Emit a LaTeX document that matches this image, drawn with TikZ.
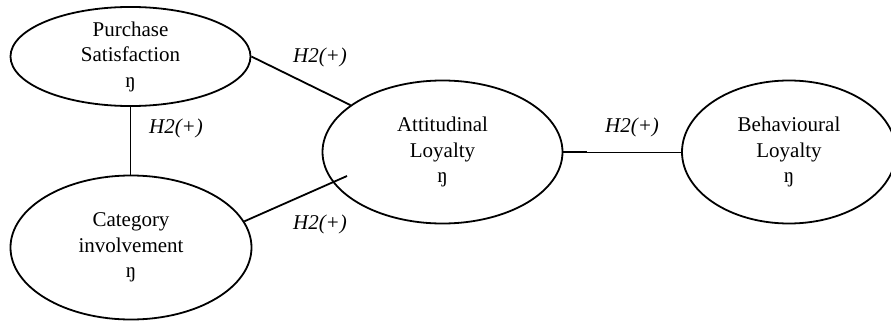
\documentclass[tikz,border=0pt]{standalone}
\usepackage{fontspec}
\setmainfont{Liberation Serif}
\usetikzlibrary{shapes.geometric}
\begin{document}
\begin{tikzpicture}[x=1pt,y=-1pt,
  construct/.style={draw, ellipse, line width=1.8pt, inner sep=0pt,
    align=center, font=\fontsize{21}{25.5}\selectfont},
  hyp/.style={font=\fontsize{21}{25}\selectfont\itshape, inner sep=0pt},
  link/.style={line width=1.8pt},
  thinlink/.style={line width=1pt}]
\useasboundingbox (0,0) rectangle (891,324);

% latent constructs
\node[construct, minimum width=240pt, minimum height=90pt] (ps) at (130.5,56.5)
  {Purchase\\Satisfaction\\ŋ};
\node[construct, minimum width=241pt, minimum height=144pt] (ci) at (131,247.5)
  {Category\\involvement\\ŋ};
\node[construct, minimum width=240pt, minimum height=143pt] (al) at (442.5,152)
  {Attitudinal\\Loyalty\\ŋ};
\node[construct, minimum width=214pt, minimum height=143pt] (bl) at (789,152)
  {Behavioural\\Loyalty\\ŋ};

% paths between constructs
\coordinate (alin) at (347,176);
\draw[link] (ps.east) -- (al.153);
\draw[link] (ci.13) -- (alin);
\draw[link] (ps.south) -- (ps.south |- ci.north);
\draw[thinlink] (al.east) -- (bl.west);
\draw[link] (al.east) -- ++(24,0);

% hypothesis labels
\node[hyp] (h1) at (320,57) {H2(+)};
\node[hyp] (h2) at (176,128) {H2(+)};
\node[hyp] (h3) at (320,224) {H2(+)};
\node[hyp] (h4) at (632,127) {H2(+)};
\end{tikzpicture}
\end{document}
